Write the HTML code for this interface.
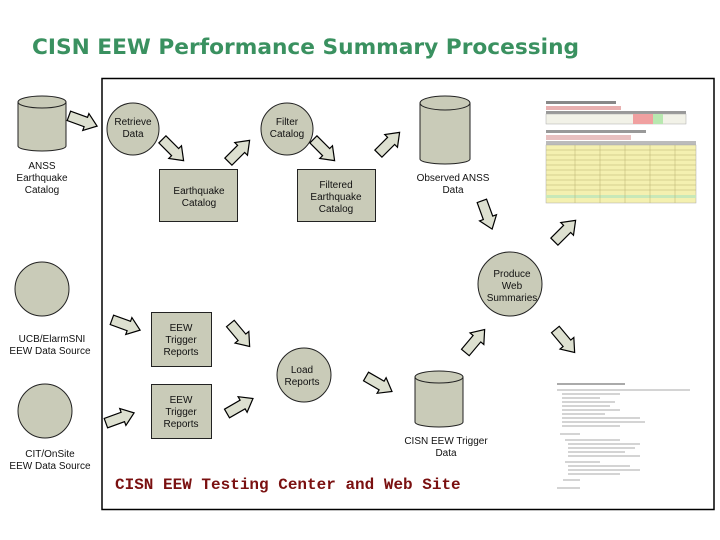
<!DOCTYPE html>
<html><head><style>
body{margin:0;background:#fff;}
svg{display:block;}
.l{font-family:"Liberation Sans",Arial,sans-serif;font-size:10px;fill:#111;text-anchor:middle;}
</style></head><body>
<svg width="720" height="540" viewBox="0 0 720 540" xmlns="http://www.w3.org/2000/svg">
<defs>
<path id="ar" d="M-15,-5 L3,-5 L3,-9 L15,0 L3,9 L3,5 L-15,5 Z" fill="#dde0d0" stroke="#000" stroke-width="1.2"/>
</defs>
<text x="32" y="54" font-family="DejaVu Sans,Verdana,sans-serif" font-weight="bold" font-size="21.7" fill="#3a9160">CISN  EEW Performance Summary Processing</text>
<rect x="102" y="78.5" width="612" height="431" fill="none" stroke="#000" stroke-width="1.5"/>

<g fill="#c9cbb8" stroke="#222" stroke-width="1">
<path d="M18,102 L18,146 A24,5 0 0 0 66,146 L66,102"/>
<ellipse cx="42" cy="102" rx="24" ry="6"/>
<path d="M420,103 L420,159 A25,5 0 0 0 470,159 L470,103"/>
<ellipse cx="445" cy="103" rx="25" ry="7"/>
<path d="M415,377 L415,422 A24,5 0 0 0 463,422 L463,377"/>
<ellipse cx="439" cy="377" rx="24" ry="6"/>
<circle cx="133" cy="129" r="26"/>
<circle cx="287" cy="129" r="26"/>
<circle cx="510" cy="284" r="32"/>
<circle cx="42" cy="289" r="27"/>
<circle cx="45" cy="411" r="27"/>
<ellipse cx="304" cy="375" rx="27" ry="27"/>
<rect x="159.5" y="169.5" width="78" height="52"/>
<rect x="297.5" y="169.5" width="78" height="52"/>
<rect x="151.5" y="312.5" width="60" height="54"/>
<rect x="151.5" y="384.5" width="60" height="54"/>
</g>

<use href="#ar" transform="translate(83,121) rotate(20)"/>
<use href="#ar" transform="translate(173,150) rotate(45)"/>
<use href="#ar" transform="translate(239,151) rotate(-45)"/>
<use href="#ar" transform="translate(324,150) rotate(45)"/>
<use href="#ar" transform="translate(389,143) rotate(-45)"/>
<use href="#ar" transform="translate(487,215) rotate(70)"/>
<use href="#ar" transform="translate(565,231) rotate(-45)"/>
<use href="#ar" transform="translate(126,325) rotate(20)"/>
<use href="#ar" transform="translate(120,418) rotate(-20)"/>
<use href="#ar" transform="translate(240,335) rotate(50)"/>
<use href="#ar" transform="translate(240,406) rotate(-30)"/>
<use href="#ar" transform="translate(379,384) rotate(30)"/>
<use href="#ar" transform="translate(475,341) rotate(-50)"/>
<use href="#ar" transform="translate(565,341) rotate(50)"/>

<g class="l">
<text x="133" y="125" class="l">Retrieve</text><text x="133" y="137" class="l">Data</text>
<text x="287" y="125" class="l">Filter</text><text x="287" y="137" class="l">Catalog</text>
<text x="42" y="169" class="l">ANSS</text><text x="42" y="181" class="l">Earthquake</text><text x="42" y="193" class="l">Catalog</text>
<text x="199" y="194" class="l">Earthquake</text><text x="199" y="206" class="l">Catalog</text>
<text x="336" y="188" class="l">Filtered</text><text x="336" y="200" class="l">Earthquake</text><text x="336" y="212" class="l">Catalog</text>
<text x="453" y="181" class="l">Observed ANSS</text><text x="453" y="193" class="l">Data</text>
<text x="512" y="277" class="l">Produce</text><text x="512" y="289" class="l">Web</text><text x="512" y="301" class="l">Summaries</text>
<text x="52" y="342" class="l">UCB/ElarmSNI</text><text x="50" y="354" class="l">EEW Data Source</text>
<text x="181" y="331" class="l">EEW</text><text x="181" y="343" class="l">Trigger</text><text x="181" y="355" class="l">Reports</text>
<text x="302" y="373" class="l">Load</text><text x="302" y="385" class="l">Reports</text>
<text x="181" y="403" class="l">EEW</text><text x="181" y="415" class="l">Trigger</text><text x="181" y="427" class="l">Reports</text>
<text x="446" y="444" class="l">CISN EEW Trigger</text><text x="446" y="456" class="l">Data</text>
<text x="50" y="457" class="l">CIT/OnSite</text><text x="50" y="469" class="l">EEW Data Source</text>
</g>
<text x="115" y="489" font-family="Liberation Mono,monospace" font-size="16" font-weight="bold" fill="#7a1010">CISN EEW Testing Center and Web Site</text>

<g>
<rect x="546" y="100" width="150" height="104" fill="#fff"/>
<rect x="546" y="101" width="70" height="3" fill="#888"/>
<rect x="546" y="106" width="75" height="4" fill="#e8b0b0"/>
<rect x="546" y="111" width="140" height="3" fill="#999"/>
<rect x="546" y="114" width="140" height="10" fill="#f2f2e8" stroke="#aaa" stroke-width="0.5"/>
<rect x="633" y="114" width="20" height="10" fill="#f0a0a0"/>
<rect x="653" y="114" width="10" height="10" fill="#b8e8b0"/>
<rect x="546" y="130" width="100" height="3" fill="#999"/>
<rect x="546" y="135" width="85" height="5" fill="#e8c0c0"/>
<rect x="546" y="141" width="150" height="4" fill="#bbb"/>
<rect x="546" y="145" width="150" height="58" fill="#f4f0b0" stroke="#aaa" stroke-width="0.5"/>
<rect x="546" y="195" width="150" height="3" fill="#c8e8b8"/>
<g stroke="#b8b070" stroke-width="0.5">
<line x1="546" y1="150" x2="696" y2="150"/><line x1="546" y1="155" x2="696" y2="155"/><line x1="546" y1="160" x2="696" y2="160"/><line x1="546" y1="165" x2="696" y2="165"/><line x1="546" y1="170" x2="696" y2="170"/><line x1="546" y1="175" x2="696" y2="175"/><line x1="546" y1="180" x2="696" y2="180"/><line x1="546" y1="185" x2="696" y2="185"/><line x1="546" y1="190" x2="696" y2="190"/>
<line x1="575" y1="145" x2="575" y2="203"/><line x1="600" y1="145" x2="600" y2="203"/><line x1="625" y1="145" x2="625" y2="203"/><line x1="650" y1="145" x2="650" y2="203"/><line x1="675" y1="145" x2="675" y2="203"/>
</g>
</g>
<g stroke="#aaa" stroke-width="1">
<line x1="557" y1="384" x2="625" y2="384" stroke="#555"/>
<line x1="557" y1="390" x2="690" y2="390"/>
<line x1="562" y1="394" x2="620" y2="394"/><line x1="562" y1="398" x2="600" y2="398"/><line x1="562" y1="402" x2="615" y2="402"/><line x1="562" y1="406" x2="610" y2="406"/><line x1="562" y1="410" x2="620" y2="410"/><line x1="562" y1="414" x2="605" y2="414"/><line x1="562" y1="418" x2="640" y2="418"/><line x1="562" y1="422" x2="645" y2="422"/><line x1="562" y1="426" x2="620" y2="426"/>
<line x1="560" y1="434" x2="580" y2="434"/><line x1="565" y1="440" x2="620" y2="440"/><line x1="568" y1="444" x2="640" y2="444"/><line x1="568" y1="448" x2="635" y2="448"/><line x1="568" y1="452" x2="625" y2="452"/><line x1="568" y1="456" x2="640" y2="456"/><line x1="565" y1="462" x2="600" y2="462"/><line x1="568" y1="466" x2="630" y2="466"/><line x1="568" y1="470" x2="640" y2="470"/><line x1="568" y1="474" x2="620" y2="474"/><line x1="563" y1="480" x2="580" y2="480"/><line x1="557" y1="488" x2="580" y2="488"/>
</g>
</svg>
</body></html>
